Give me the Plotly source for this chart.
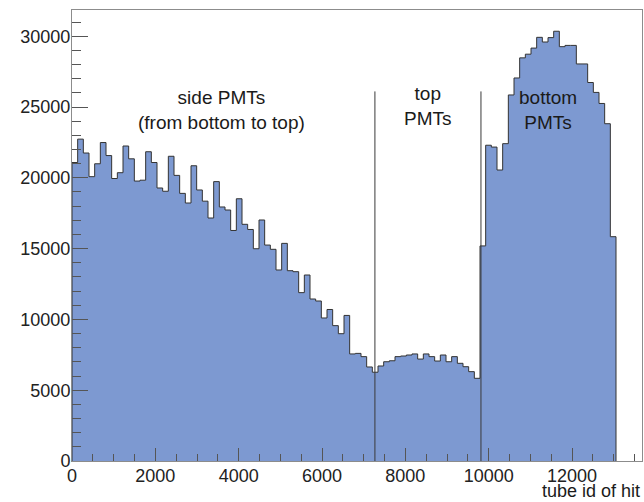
import numpy as np
import plotly.graph_objects as go

# ---- data ----
bin_width = 136
counts = [
    21080, 22730, 21750, 20080, 20990, 22490, 21570, 19950, 20360, 22245,
    21340, 19770, 19830, 21840, 21080, 19280, 19050, 21520, 20170, 18900,
    18220, 20850, 19140, 18350, 17160, 19730, 17940, 17725, 16280, 18520,
    16715, 16350, 14990, 17020, 15250, 14950, 13490, 15370, 13440, 13370,
    11890, 13135, 11440, 11300, 10100, 10700, 9560, 8990, 10280, 7560,
    7600, 7370, 6640, 6270, 6710, 7010, 7080, 7370, 7415, 7485,
    7560, 7200, 7560, 7370, 7060, 7485, 7010, 7370, 6900, 6660,
    6310, 5840, 15190, 22300, 22170, 20550, 22410, 25850, 27050, 28470,
    28730, 29160, 29920, 29590, 29900, 30350, 29260, 29350, 29350, 28040,
    28040, 26730, 26030, 25250, 23820, 15840,
]
divider_x = [7270, 9815]
divider_top = 26100
region_labels = ["side PMTs<br>(from bottom to top)", "top<br>PMTs", "bottom<br>PMTs"]
region_label_x = [3593, 8536, 11416]
region_label_y = [24760, 25070, 24820]
x_ticks = [0, 2000, 4000, 6000, 8000, 10000, 12000]
y_ticks = [0, 5000, 10000, 15000, 20000, 25000, 30000]
x_title = "tube id of hit"

# ---- build step outline ----
n = len(counts)
edges = np.arange(n + 1) * bin_width
xs = [0.0] + list(edges[:-1]) + [edges[-1], edges[-1]]
ys = [0.0] + list(counts) + [counts[-1], 0.0]

fill_col = "rgb(125,153,209)"
font_fam = "Liberation Sans, Arial, sans-serif"

fig = go.Figure()
fig.add_trace(go.Scatter(
    x=xs, y=ys, mode="lines", line=dict(shape="hv", color="#333333", width=1),
    fill="tozeroy", fillcolor=fill_col, hoverinfo="skip", showlegend=False,
))

for dx in divider_x:
    fig.add_shape(type="line", x0=dx, x1=dx, y0=0, y1=divider_top,
                  xref="x", yref="y", line=dict(color="#3a3a3a", width=1), layer="above")

for txt, ax, ay in zip(region_labels, region_label_x, region_label_y):
    fig.add_annotation(x=ax, y=ay, xref="x", yref="y", text=txt, showarrow=False,
                       font=dict(family=font_fam, size=19, color="#1a1a1a"),
                       align="center", xanchor="center", yanchor="middle")

fig.add_annotation(x=1, y=-0.0665, xref="paper", yref="paper", text=x_title,
                   showarrow=False, xanchor="right", yanchor="middle",
                   font=dict(family=font_fam, size=18, color="#1a1a1a"))

axis_common = dict(
    showgrid=False, zeroline=False, showline=True, linecolor="#8c8c8c", linewidth=1,
    mirror=True, ticks="inside", tickcolor="#555555", tickwidth=1,
    tickfont=dict(family=font_fam, size=18, color="#222222"),
)
fig.update_xaxes(range=[0, 13680], tickvals=x_ticks, ticktext=[str(v) for v in x_ticks],
                 ticklen=13, ticklabelstandoff=-2,
                 minor=dict(dtick=500, tick0=0, ticks="inside", ticklen=7, tickcolor="#555555"),
                 **axis_common)
fig.update_yaxes(range=[0, 31850], tickvals=y_ticks, ticktext=[str(v) for v in y_ticks],
                 ticklen=16, ticklabelstandoff=-3,
                 minor=dict(dtick=1000, tick0=0, ticks="inside", ticklen=9, tickcolor="#555555"),
                 **axis_common)

fig.update_layout(
    width=644, height=502,
    margin=dict(l=72, r=2, t=10, b=41),
    paper_bgcolor="white", plot_bgcolor="white",
)
fig.write_html(
    "out.html",
    config={"displayModeBar": False},
    post_script="document.body.style.margin='0';document.body.style.overflow='hidden';",
)
